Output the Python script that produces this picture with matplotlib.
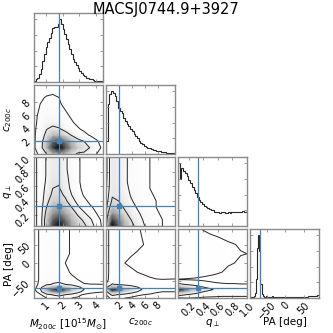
import numpy as np
import matplotlib
matplotlib.use("Agg")
import matplotlib.pyplot as plt
from matplotlib.colors import LinearSegmentedColormap, PowerNorm

title = "MACSJ0744.9+3927"
labels = [r"$M_{200c}$ $[10^{15}M_{\odot}]$", r"$c_{200c}$", r"$q_{\perp}$", "PA [deg]"]
ranges = [(0.3, 4.4), (-0.1, 10.7), (0.05, 1.0), (-95.0, 92.0)]
truths = [1.8, 2.0, 0.32, -68.0]
ticks = [[1, 2, 3, 4], [2, 4, 6, 8], [0.2, 0.4, 0.6, 0.8, 1.0], [-50, 0, 50]]
tick_labels = [["1", "2", "3", "4"], ["2", "4", "6", "8"],
               ["0.2", "0.4", "0.6", "0.8", "1.0"], ["\u221250", "0", "50"]]

# 1D marginal histograms (relative counts per bin, uniform bins over the range)
hist_M = [2, 4, 7, 12, 20, 33, 45, 55, 63, 70, 78, 86, 88, 87, 92, 100, 93, 84, 76, 68,
          60, 52, 44, 37, 32, 27, 22, 18, 14, 11, 9, 7, 6, 5, 4, 3, 2, 2, 1, 1, 1]
hist_c = [20, 80, 95, 100, 97, 93, 85, 74, 68, 65, 58, 53, 48, 44, 40, 36, 32, 28, 25, 21,
          18, 16, 13, 11, 10, 9, 8, 7, 6, 5, 4, 4, 3, 3, 3, 2, 2, 2, 2, 2]
hist_q = [100, 75, 92, 88, 84, 80, 74, 68, 62, 57, 52, 47, 42, 38, 35, 32, 30, 28, 27, 25,
          25, 23, 23, 22, 21, 22, 22, 21, 21, 22, 21, 22, 22, 22, 22, 23, 22, 24, 23, 22]
hist_PA = [1, 1, 2, 3, 8, 30, 80, 100, 75, 22, 6, 3,
           2, 2, 3, 2, 2, 2, 2, 3, 2, 2, 2, 2, 2, 2, 2, 2, 2, 2,
           2, 2, 2, 2, 2, 2, 2, 2, 2, 2, 2, 2, 2, 2, 2, 2, 2, 2,
           2, 2, 3, 3, 3, 3, 3, 4, 4, 4, 5, 5]
hists = [hist_M, hist_c, hist_q, hist_PA]

# 2D density grids (rows: y nodes bottom->top, columns: x nodes left->right)
PA_nodes = [-95, -86, -78, -72, -66, -58, -45, -25, 0, 25, 50, 70, 92]

dens_M_c = [
    [1, 6, 25, 45, 55, 45, 32, 22, 22, 12, 4, 1],
    [2, 14, 50, 85, 100, 82, 58, 40, 32, 24, 8, 2],
    [2, 13, 45, 75, 85, 68, 48, 32, 25, 12, 5, 1],
    [2, 11, 32, 48, 48, 36, 24, 14, 7, 3, 1, 0],
    [2, 9, 24, 30, 27, 18, 10, 5, 2, 1, 0, 0],
    [1, 8, 17, 19, 15, 9, 5, 2, 1, 0, 0, 0],
    [1, 7, 13, 13, 10, 6, 3, 1, 0, 0, 0, 0],
    [1, 5, 10, 10, 7, 4, 1, 0, 0, 0, 0, 0],
    [0, 4, 8, 8, 5, 2, 1, 0, 0, 0, 0, 0],
    [0, 2, 5, 6, 4, 1, 0, 0, 0, 0, 0, 0],
    [0, 0, 1, 2, 1, 0, 0, 0, 0, 0, 0, 0],
    [0, 0, 1, 1, 1, 0, 0, 0, 0, 0, 0, 0],
]
dens_M_q = [
    [1, 8, 40, 85, 100, 82, 58, 42, 33, 24, 10, 2],
    [1, 8, 40, 75, 88, 72, 50, 36, 27, 18, 7, 2],
    [1, 8, 35, 60, 70, 56, 40, 27, 18, 10, 4, 1],
    [1, 8, 30, 48, 54, 43, 30, 18, 10, 5, 2, 0],
    [1, 8, 25, 39, 42, 33, 21, 12, 6, 2, 1, 0],
    [1, 8, 22, 33, 35, 27, 16, 8, 3, 1, 0, 0],
    [1, 8, 20, 30, 31, 23, 13, 6, 2, 0, 0, 0],
    [1, 8, 18, 28, 29, 21, 12, 5, 2, 0, 0, 0],
    [1, 8, 17, 26, 26, 19, 12, 5, 2, 0, 0, 0],
    [1, 8, 17, 25, 25, 18, 11, 5, 2, 0, 0, 0],
    [1, 8, 17, 25, 25, 18, 11, 5, 2, 0, 0, 0],
    [1, 8, 17, 25, 25, 18, 11, 5, 2, 0, 0, 0],
]
dens_c_q = [
    [25, 100, 78, 52, 36, 24, 15, 10, 6, 4, 2, 1],
    [20, 85, 66, 44, 30, 20, 13, 9, 6, 4, 2, 1],
    [14, 62, 50, 34, 23, 16, 11, 8, 5, 3, 2, 1],
    [9, 44, 38, 27, 18, 13, 9, 7, 4, 3, 1, 1],
    [6, 33, 30, 22, 15, 11, 8, 6, 4, 2, 1, 1],
    [4, 28, 26, 19, 13, 10, 7, 5, 3, 2, 1, 1],
    [2, 26, 24, 17, 12, 9, 6, 4, 3, 2, 1, 1],
    [1, 25, 23, 16, 11, 8, 6, 4, 3, 2, 1, 1],
    [0, 25, 22, 16, 11, 8, 6, 4, 3, 2, 1, 1],
    [0, 25, 22, 16, 11, 8, 6, 4, 3, 2, 1, 1],
    [0, 25, 22, 16, 11, 8, 6, 4, 3, 2, 1, 1],
    [0, 25, 22, 16, 11, 8, 6, 4, 3, 2, 1, 1],
]
dens_M_PA = [
    [0, 2, 4, 6, 7, 6, 4, 3, 2, 1, 1, 0],
    [0, 3, 10, 16, 20, 15, 10, 6, 3, 2, 1, 0],
    [1, 8, 35, 55, 65, 50, 33, 20, 10, 6, 5, 4.5],
    [2, 13, 55, 85, 100, 78, 50, 30, 15, 8, 7, 5],
    [1, 9, 35, 55, 62, 48, 32, 19, 10, 6, 5, 4.5],
    [1, 6, 12, 16, 18, 15, 11, 7, 4.5, 4.2, 4.2, 4.1],
    [1, 5, 9, 11, 11, 9, 6, 4, 2, 1, 0, 0],
    [1, 5, 8, 9, 8, 6, 3, 2, 1, 0, 0, 0],
    [1, 5, 8, 9, 7, 4, 3, 1, 0, 0, 0, 0],
    [1, 5, 8, 9, 8, 6, 3, 2, 1, 0, 0, 0],
    [1, 5, 8, 9, 8, 6, 3, 2, 1, 0, 0, 0],
    [1, 5, 8, 9, 8, 6, 3, 2, 1, 0, 0, 0],
    [1, 5, 8, 9, 8, 6, 3, 2, 1, 0, 0, 0],
]
dens_c_PA = [
    [1, 6, 5, 4, 3, 2, 2, 1, 1, 1, 0, 0],
    [4, 18, 14, 10, 7, 5, 4, 3, 2, 1, 1, 1],
    [8, 55, 45, 32, 22, 15, 10, 7, 5, 4, 4, 4],
    [12, 100, 80, 55, 40, 20, 13, 11, 8, 6, 5, 4.5],
    [9, 60, 48, 33, 24, 16, 11, 8, 6, 5, 4.5, 4.2],
    [4, 16, 13, 10, 8, 7, 6, 5, 5, 4.5, 4.2, 4.1],
    [1, 9, 8, 7, 6, 5.5, 5, 4.5, 4.2, 4.1, 4.2, 4.3],
    [1, 8, 7, 5.5, 4.5, 4, 3.5, 3, 2, 1.5, 1, 1],
    [1, 8, 6, 4, 3.5, 3, 2.5, 2, 1.5, 1, 1, 1],
    [1, 8, 7, 5, 4.2, 3.8, 3.2, 2.5, 2, 1.5, 1, 1],
    [1, 8, 7, 6, 5, 4.5, 4, 3, 2, 1.5, 1, 1],
    [1, 8, 7, 6, 5, 4.5, 3.8, 3, 2, 1.5, 1, 1],
    [1, 8, 7, 5.5, 4.8, 4.3, 3.6, 2.8, 2, 1.5, 1, 1],
]
dens_q_PA = [
    [3, 4, 4, 3.5, 3, 3, 3, 3, 3, 3, 3, 3],
    [20, 16, 12, 9, 7, 6, 5.5, 5, 5, 5, 5, 5],
    [55, 45, 32, 22, 15, 11, 9, 8, 7, 7, 7, 7],
    [100, 80, 55, 38, 26, 18, 13, 11, 10, 9, 9, 9],
    [60, 48, 34, 24, 16, 12, 9, 8, 7, 7, 7, 7],
    [18, 15, 11, 8, 6, 5, 4.5, 4.3, 4.2, 4.2, 4.1, 4.1],
    [3.8, 3.7, 3.6, 3.5, 3.4, 3.3, 3.2, 3.1, 3, 3, 3, 3],
    [7, 6.5, 6, 5.5, 5, 4.6, 4.3, 4, 3.6, 3.3, 3, 3],
    [7, 6.5, 6, 5.5, 5, 4.8, 4.6, 4.4, 4.2, 4, 3.6, 3.3],
    [7, 6.5, 6, 5.7, 5.4, 5.1, 4.8, 4.6, 4.4, 4.2, 4.1, 4.0],
    [7, 6.5, 6, 5.5, 5.2, 4.9, 4.6, 4.4, 4.2, 4.05, 3.8, 3.6],
    [6.5, 6, 5.5, 5, 4.6, 4.3, 4.1, 3.9, 3.7, 3.5, 3.3, 3.1],
    [6, 5.3, 4.8, 4.3, 3.9, 3.6, 3.4, 3.2, 3, 2.9, 2.8, 2.7],
]
# (row, col) -> (density grid, contour levels)
panels2d = {
    (1, 0): (dens_M_c, [4, 25]),
    (2, 0): (dens_M_q, [4, 16, 30]),
    (2, 1): (dens_c_q, [4, 14, 30]),
    (3, 0): (dens_M_PA, [4, 15]),
    (3, 1): (dens_c_PA, [4, 15]),
    (3, 2): (dens_q_PA, [4, 15]),
}

truth_color = "#4682b4"
frame_color = "#8a8a8a"
dens_cmap = LinearSegmentedColormap.from_list("dens", ["white", "black"])
dens_norm = PowerNorm(gamma=1.8, vmin=0, vmax=100)

fig, axes = plt.subplots(4, 4, figsize=(3.33, 3.33), dpi=100)
fig.subplots_adjust(left=0.102, right=0.958, bottom=0.105, top=0.961,
                    wspace=0.045, hspace=0.045)
n = 4


def nodes(i, count):
    if i == 3:
        return np.array(PA_nodes, float)
    return np.linspace(ranges[i][0], ranges[i][1], count)


for i in range(n):
    for j in range(n):
        ax = axes[i, j]
        if j > i:
            ax.axis("off")
            continue
        for sp in ax.spines.values():
            sp.set_color(frame_color)
            sp.set_linewidth(1.0)
        ax.tick_params(direction="in", top=True, right=True, length=2.5, width=0.6,
                       color=frame_color, labelsize=7, pad=1.5)
        if i == j:
            vals = np.asarray(hists[i], float)
            edges = np.linspace(ranges[i][0], ranges[i][1], len(vals) + 1)
            ax.stairs(vals, edges, color="0.15", lw=0.8)
            ax.set_ylim(0, 1.1 * vals.max())
            ax.set_xlim(*ranges[i])
            ax.axvline(truths[i], color=truth_color, lw=0.9)
            ax.set_yticks(np.linspace(0, vals.max(), 5)[1:])
            ax.set_yticklabels([])
        else:
            Z, levels = panels2d[(i, j)]
            Z = np.asarray(Z, float)
            xn = nodes(j, Z.shape[1])
            yn = nodes(i, Z.shape[0])
            X, Y = np.meshgrid(xn, yn)
            ax.pcolormesh(X, Y, Z, shading="gouraud", cmap=dens_cmap, norm=dens_norm,
                          rasterized=True)
            ax.contour(X, Y, Z, levels=levels, colors="0.15", linewidths=0.7)
            ax.set_xlim(*ranges[j])
            ax.set_ylim(*ranges[i])
            ax.axvline(truths[j], color=truth_color, lw=0.9)
            ax.axhline(truths[i], color=truth_color, lw=0.9)
            ax.plot(truths[j], truths[i], "s", color=truth_color, ms=3)
            ax.set_yticks(ticks[i])
            if j == 0:
                ax.set_yticklabels(tick_labels[i], rotation=45)
                ax.set_ylabel(labels[i], fontsize=7.5)
                ax.yaxis.set_label_coords(-0.29, 0.5)
            else:
                ax.set_yticklabels([])
        ax.set_xticks(ticks[j])
        if i == n - 1:
            ax.set_xticklabels(tick_labels[j], rotation=45)
            ax.set_xlabel(labels[j], fontsize=7.5)
            ax.xaxis.set_label_coords(0.5, -0.27)
        else:
            ax.set_xticklabels([])

fig.suptitle(title, fontsize=10.5, x=0.5, y=0.995)
fig.savefig("out.png", dpi=100)
